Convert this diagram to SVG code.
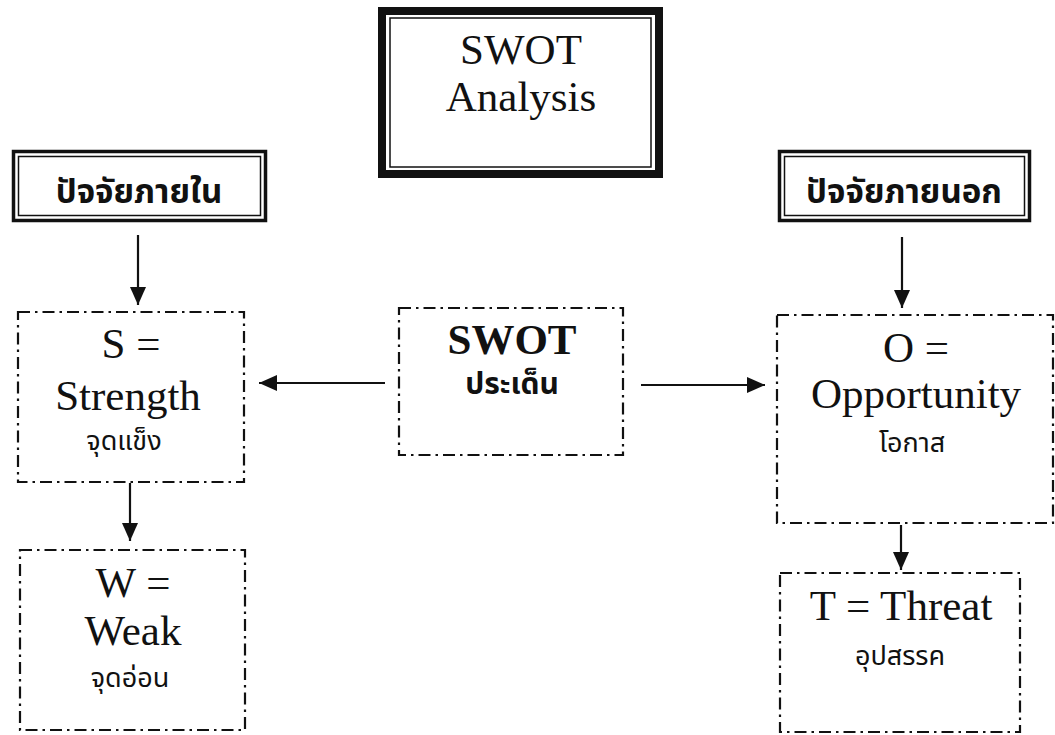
<svg xmlns="http://www.w3.org/2000/svg" width="1055" height="735" viewBox="0 0 1055 735">
<style>
.bg{fill:#fff}
.dd{fill:#fff;stroke:#111;stroke-width:2.2;stroke-dasharray:12 5 2.5 5}
.thick{fill:none;stroke:#111}
.en{font-family:"Liberation Serif","Times New Roman",serif;font-size:43px;fill:#111;text-anchor:middle}
.enb{font-family:"Liberation Serif","Times New Roman",serif;font-size:43px;font-weight:bold;fill:#111;text-anchor:middle}
.th{font-family:"Noto Sans Thai","Noto Sans","DejaVu Sans",sans-serif;font-size:27px;fill:#111;text-anchor:middle}
.thb{font-family:"Noto Sans Thai","Noto Sans","DejaVu Sans",sans-serif;font-size:33px;font-weight:bold;fill:#111;text-anchor:middle}
.thc{font-size:30px}
.ln{stroke:#111;stroke-width:2.2;fill:none}
</style>
<defs>
<marker id="ah" viewBox="0 0 18 16" refX="18" refY="8" markerWidth="18" markerHeight="16" markerUnits="userSpaceOnUse" orient="auto">
<path d="M0,0 L18,8 L0,16 Z" fill="#111"/>
</marker>
</defs>
<rect class="bg" x="0" y="0" width="1055" height="735"/>

<g id="swot-analysis">
<rect class="thick" x="382" y="11" width="277" height="163" stroke-width="8"/>
<rect class="thick" x="390" y="18" width="261" height="149" stroke-width="1.5"/>
<text class="en" x="521" y="64">SWOT</text>
<text class="en" x="521" y="111">Analysis</text>
</g>

<g id="internal">
<rect class="thick" x="13.5" y="151.5" width="252" height="69" stroke-width="3.5"/>
<rect class="thick" x="18.5" y="156.5" width="242" height="59" stroke-width="1.5"/>
<text class="thb" x="139" y="203">ปัจจัยภายใน</text>
</g>

<g id="external">
<rect class="thick" x="779.5" y="151.5" width="250" height="69" stroke-width="3.5"/>
<rect class="thick" x="784.5" y="156.5" width="240" height="59" stroke-width="1.5"/>
<text class="thb" x="904" y="203">ปัจจัยภายนอก</text>
</g>

<g id="strength">
<rect class="dd" x="18" y="312" width="226" height="170"/>
<text class="en" x="131" y="358">S =</text>
<text class="en" x="128" y="410">Strength</text>
<text class="th" x="124" y="450">จุดแข็ง</text>
</g>

<g id="weak">
<rect class="dd" x="20" y="550" width="225" height="180"/>
<text class="en" x="133" y="597">W =</text>
<text class="en" x="133" y="645">Weak</text>
<text class="th" x="130" y="687">จุดอ่อน</text>
</g>

<g id="swot-issue">
<rect class="dd" x="399" y="308" width="224" height="147"/>
<text class="enb" x="512" y="354">SWOT</text>
<text class="thb thc" x="512" y="394">ประเด็น</text>
</g>

<g id="opportunity">
<rect class="dd" x="777" y="315" width="276" height="208"/>
<text class="en" x="916" y="362">O =</text>
<text class="en" x="916" y="408">Opportunity</text>
<text class="th" x="912" y="452">โอกาส</text>
</g>

<g id="threat">
<rect class="dd" x="780" y="573" width="240" height="159"/>
<text class="en" x="901" y="620">T = Threat</text>
<text class="th" x="900" y="665">อุปสรรค</text>
</g>

<g id="connectors">
<line class="ln" x1="138" y1="235" x2="138" y2="305" marker-end="url(#ah)"/>
<line class="ln" x1="902" y1="237" x2="902" y2="308" marker-end="url(#ah)"/>
<line class="ln" x1="130" y1="483" x2="130" y2="541" marker-end="url(#ah)"/>
<line class="ln" x1="901" y1="525" x2="901" y2="570" marker-end="url(#ah)"/>
<line class="ln" x1="385" y1="383" x2="259" y2="383" marker-end="url(#ah)"/>
<line class="ln" x1="641" y1="385" x2="765" y2="385" marker-end="url(#ah)"/>
</g>
</svg>
